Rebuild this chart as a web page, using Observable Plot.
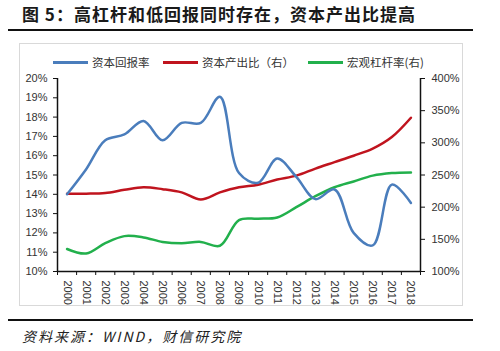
<!DOCTYPE html>
<html><head><meta charset="utf-8">
<script src="https://cdn.jsdelivr.net/npm/d3@7"></script>
<script src="https://cdn.jsdelivr.net/npm/@observablehq/plot@0.6"></script>
<style>
body{margin:0;background:#fff;}
#wrap{position:relative;width:500px;height:351px;overflow:hidden;font-family:"Noto Sans CJK SC",sans-serif;background:#fff;}
#title{position:absolute;left:22px;top:1px;font-size:17px;font-weight:bold;letter-spacing:1px;color:#1a1a1a;white-space:nowrap;line-height:26px;}
.hr{position:absolute;left:8px;width:465px;height:2px;background:#111;}
#box{position:absolute;left:19px;top:43px;width:444px;height:263px;border:1px solid #d9d9d9;box-sizing:border-box;}
#legend{position:absolute;top:54px;left:0;width:500px;height:16px;font-size:11.5px;color:#333;}
.lg{position:absolute;top:0;display:flex;align-items:center;white-space:nowrap;height:16px;}
.sw{display:inline-block;width:35px;height:3px;margin-right:4px;}
#chart{position:absolute;left:0;top:68px;}
#source{position:absolute;left:22px;top:326px;font-style:italic;font-size:14px;letter-spacing:2px;color:#222;white-space:nowrap;line-height:20px;}
</style>
</head><body>
<div id="wrap">
  <div id="title">图 5：高杠杆和低回报同时存在，资本产出比提高</div>
  <div class="hr" style="top:29px"></div>
  <div id="box"></div>
  <div id="legend"></div>
  <div id="chart"></div>
  <div class="hr" style="top:319px"></div>
  <div id="source">资料来源：WIND，财信研究院</div>
</div>
<script>
const years = [2000,2001,2002,2003,2004,2005,2006,2007,2008,2009,2010,2011,2012,2013,2014,2015,2016,2017,2018];
// 资本回报率 (left axis, %)
const returnRate = [14.0,15.3,16.8,17.1,17.8,16.8,17.7,17.7,19.05,15.1,14.6,15.85,14.9,13.75,14.25,12.0,11.35,14.5,13.55];
// 资本产出比（右） (right axis, %)
const capitalOutput = [221,221,222,227,231,228,223,212,223,231,235,243,249,260,270,280,291,309,339];
// 宏观杠杆率(右) (right axis, %)
const leverage = [135,128,144,155,153,146,144,146,140,180,182,184,200,217,231,240,249,253,254];
const leftTicks = [10,11,12,13,14,15,16,17,18,19,20];
const rightTicks = [100,150,200,250,300,350,400];
const seriesNames = ["资本回报率","资本产出比（右）","宏观杠杆率(右)"];
const seriesColors = ["#4a7dbc","#c0141e","#22b04c"];

// right axis (100%..400%) mapped onto left axis (10%..20%)
const toLeft = v => 10 + (v - 100) / 30;
const toRight = p => Math.round(100 + (p - 10) * 30);

const rows = years.map((yr, i) => ({year: yr, ret: returnRate[i], co: toLeft(capitalOutput[i]), lev: toLeft(leverage[i])}));
const edges = years.map(y => y - 0.5).concat([years[years.length - 1] + 0.5]);

// legend
const legendLeft = [53, 163, 308];
const lg = document.getElementById("legend");
seriesNames.forEach((n, i) => {
  const d = document.createElement("div");
  d.className = "lg";
  d.style.left = legendLeft[i] + "px";
  d.innerHTML = `<span class="sw" style="background:${seriesColors[i]}"></span><span>${n}</span>`;
  lg.appendChild(d);
});

const chart = Plot.plot({
  width: 500, height: 240,
  marginLeft: 57, marginRight: 80, marginTop: 10, marginBottom: 37,
  x: {domain: [edges[0], edges[edges.length - 1]]},
  y: {domain: [10, 20]},
  style: {fontFamily: "'Liberation Sans', Arial, sans-serif", fontSize: "11px", color: "#333", background: "transparent"},
  marks: [
    Plot.axisY(leftTicks, {anchor: "left", tickSize: 4, tickPadding: 6, tickFormat: d => d + "%", stroke: "#111", fill: "#333", label: null}),
    Plot.axisY(rightTicks.map(toLeft), {anchor: "right", tickSize: 4, tickPadding: 7, tickFormat: d => toRight(d) + "%", stroke: "#111", fill: "#333", label: null}),
    Plot.axisX(edges, {anchor: "bottom", tickSize: 4, tickFormat: () => "", stroke: "#111", label: null}),
    Plot.axisX(years, {anchor: "bottom", tickSize: 0, tickPadding: 9, tickRotate: 90, tickFormat: d => String(d), fill: "#333", label: null}),
    Plot.ruleX([edges[0], edges[edges.length - 1]], {stroke: "#111", strokeWidth: 1.5}),
    Plot.ruleY([10], {stroke: "#111", strokeWidth: 1.5}),
    Plot.line(rows, {x: "year", y: "lev", stroke: seriesColors[2], strokeWidth: 2.5, curve: "catmull-rom"}),
    Plot.line(rows, {x: "year", y: "co", stroke: seriesColors[1], strokeWidth: 2.5, curve: "catmull-rom"}),
    Plot.line(rows, {x: "year", y: "ret", stroke: seriesColors[0], strokeWidth: 2.5, curve: "catmull-rom"})
  ]
});
document.getElementById("chart").appendChild(chart);
</script>
</body></html>
